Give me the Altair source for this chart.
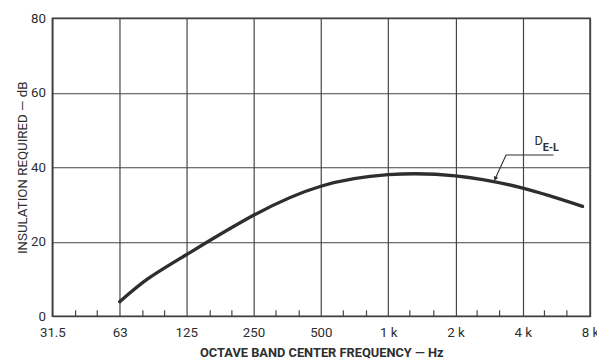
import altair as alt
import pandas as pd

# --- data ---
octave_hz = [31.5, 63, 125, 250, 500, 1000, 2000, 4000, 8000]
octave_labels = ["31.5", "63", "125", "250", "500", "1 k", "2 k", "4 k", "8 k"]
third_octave_hz = [40, 50, 80, 100, 160, 200, 315, 400, 630, 800,
                   1250, 1600, 2500, 3150, 5000, 6300]
db_grid = [0, 10, 20, 30, 40, 50, 60, 70, 80]

curve_hz = [63, 84, 125, 250, 500, 1000, 2000, 4000, 7400]
curve_db = [3.9, 10, 16.5, 27.1, 34.9, 38.0, 37.7, 34.4, 29.5]

leader_hz = [5488, 3367, 3011]
leader_db = [43.3, 43.3, 36.9]
label_main = "D"
label_sub = "E-L"
label_main_pos = (4510, 46.0)
label_sub_pos = (4908, 44.3)

FONT = "Roboto, Liberation Sans, sans-serif"
INK = "#2e2e2e"
W, H = 545, 302

label_map = "{" + ",".join(f"'{v}':'{l}'" for v, l in zip(octave_hz, octave_labels)) + "}"

xscale = alt.Scale(type="log", base=2, domain=[31.5, 8000], nice=False)
yscale = alt.Scale(domain=[0, 80], nice=False)

curve = pd.DataFrame({"f": curve_hz, "db": curve_db})
base = alt.Chart(curve).mark_line(
    color=INK, strokeWidth=3.4, interpolate="natural", strokeCap="round"
).encode(
    x=alt.X("f:Q", scale=xscale,
            axis=alt.Axis(values=octave_hz, labelExpr=f"{label_map}[''+datum.value]",
                          title="OCTAVE BAND CENTER FREQUENCY — Hz",
                          grid=True, ticks=False, domain=False,
                          labelPadding=10, titlePadding=7,
                          labelFontSize=13.5, titleFontSize=13, titleFontWeight="bold",
                          labelFlush=False)),
    y=alt.Y("db:Q", scale=yscale,
            axis=alt.Axis(values=db_grid,
                          labelExpr="datum.value % 20 == 0 ? datum.value : ''",
                          title="INSULATION REQUIRED — dB",
                          grid=True, ticks=False, domain=False,
                          labelPadding=7, titlePadding=1,
                          labelFontSize=13.5, titleFontSize=13.5, titleFontWeight="normal")),
)

minor = alt.Chart(pd.DataFrame({"f": third_octave_hz})).mark_rule(
    color="#444", strokeWidth=1.2
).encode(x=alt.X("f:Q", scale=xscale), y=alt.value(H), y2=alt.value(H - 6))

leader = alt.Chart(pd.DataFrame({"f": leader_hz, "db": leader_db, "o": [0, 1, 2]})).mark_line(
    color=INK, strokeWidth=1.1
).encode(x=alt.X("f:Q", scale=xscale), y=alt.Y("db:Q", scale=yscale), order="o:Q")

arrow = alt.Chart(pd.DataFrame({"f": [leader_hz[-1]], "db": [leader_db[-1]]})).mark_point(
    shape="triangle-down", filled=True, color=INK, size=24, angle=24, opacity=1
).encode(x=alt.X("f:Q", scale=xscale), y=alt.Y("db:Q", scale=yscale))

t_main = alt.Chart(pd.DataFrame({"f": [label_main_pos[0]], "db": [label_main_pos[1]], "t": [label_main]})).mark_text(
    align="left", baseline="alphabetic", font=FONT, fontSize=13, color=INK
).encode(x=alt.X("f:Q", scale=xscale), y=alt.Y("db:Q", scale=yscale), text="t:N")

t_sub = alt.Chart(pd.DataFrame({"f": [label_sub_pos[0]], "db": [label_sub_pos[1]], "t": [label_sub]})).mark_text(
    align="left", baseline="alphabetic", font=FONT, fontSize=11, fontWeight="bold", color=INK
).encode(x=alt.X("f:Q", scale=xscale), y=alt.Y("db:Q", scale=yscale), text="t:N")

chart = alt.layer(base, minor, leader, arrow, t_main, t_sub).properties(
    width=W, height=H,
    autosize=alt.AutoSizeParams(type="none"),
    padding={"left": 45, "top": 8, "right": 7, "bottom": 45},
    background="white",
).configure_view(
    stroke="#333", strokeWidth=1.6
).configure_axis(
    gridColor="#444", gridWidth=1.2, gridOpacity=1,
    labelFont=FONT, titleFont=FONT, labelColor=INK, titleColor=INK,
)

chart.save("out.html", embed_options={"renderer": "svg", "actions": False})
